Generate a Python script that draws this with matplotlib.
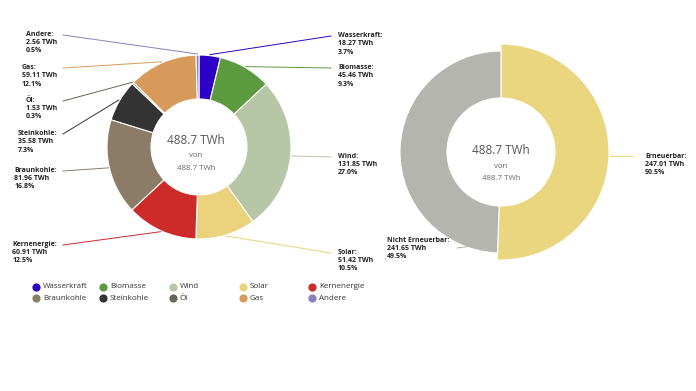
import numpy as np
import matplotlib
matplotlib.use("Agg")
import matplotlib.pyplot as plt

# ---------------- data ----------------
categories = ["Wasserkraft", "Biomasse", "Wind", "Solar", "Kernenergie",
              "Braunkohle", "Steinkohle", "Öl", "Gas", "Andere"]
values_twh = [18.27, 45.46, 131.85, 51.42, 60.91, 81.96, 35.58, 1.53, 59.11, 2.56]
percent_labels = ["3.7%", "9.3%", "27.0%", "10.5%", "12.5%", "16.8%", "7.3%", "0.3%", "12.1%", "0.5%"]
colors = ["#2d00c8", "#5b9a3f", "#b6c6a6", "#ead37c", "#cd2a2a",
          "#8c7b66", "#333333", "#66665a", "#d89a5a", "#8a80c0"]

group_categories = ["Erneuerbar", "Nicht Erneuerbar"]
group_values = [247.01, 241.65]
group_percent = ["50.5%", "49.5%"]
group_colors = ["#ead67e", "#b5b5b0"]

total_text = "488.7 TWh"

# ---------------- layout (pixels, y downward) ----------------
W, H = 696, 391
def Y(y):
    return H - y

L_CX, L_CY, L_R, L_RI = 199, 147, 92, 48
R_CX, R_CY, R_R, R_RI, R_RH = 501, 152, 101, 54, 108

# label first-line y positions and side (for the left donut)
label_y = [36, 68, 157, 253, 245, 171, 134, 101, 68, 35]
label_side = ["r", "r", "r", "r", "l", "l", "l", "l", "l", "l"]
RIGHT_TX, RIGHT_LX = 338, 331
LEFT_TX, LEFT_LX = 57, 63

plt.rcParams["font.family"] = ["Open Sans", "DejaVu Sans"]

fig = plt.figure(figsize=(W / 100, H / 100), dpi=100)
ax = fig.add_axes([0, 0, 1, 1])

# ---- left donut ----
wedges, _ = ax.pie(values_twh, colors=colors, startangle=90, counterclock=False,
                   radius=L_R, center=(L_CX, Y(L_CY)),
                   wedgeprops=dict(width=L_R - L_RI, edgecolor="white", linewidth=0.8))

frac = np.array(values_twh) / np.sum(values_twh)
mids = np.cumsum(frac) - frac / 2
fs_lab = 5.0
for i, cat in enumerate(categories):
    ang = np.deg2rad(mids[i] * 360)
    ex = L_CX + (L_R + 1) * np.sin(ang)
    ey = L_CY - (L_R + 1) * np.cos(ang)
    ly = label_y[i]
    txt = f"{cat}:\n{values_twh[i]:.2f} TWh\n{percent_labels[i]}"
    if label_side[i] == "r":
        ax.plot([ex, RIGHT_LX], [Y(ey), Y(ly)], color=colors[i], lw=0.7)
        ax.text(RIGHT_TX, Y(ly - 4), txt, ha="left", va="top", fontsize=fs_lab,
                fontweight="bold", color="#222222", linespacing=1.25)
    else:
        ax.plot([ex, LEFT_LX], [Y(ey), Y(ly)], color=colors[i], lw=0.7)
        ax.text(LEFT_TX, Y(ly - 4), txt, ha="right", va="top", fontsize=fs_lab,
                fontweight="bold", color="#222222", linespacing=1.25,
                multialignment="left")

ax.text(196, Y(144), total_text, ha="center", va="baseline", fontsize=8.5,
        color="#555555")
ax.text(196, Y(157), "von", ha="center", va="baseline", fontsize=5.7, color="#666666")
ax.text(196, Y(170), total_text, ha="center", va="baseline", fontsize=5.7, color="#666666")

# ---- right donut ----
gw, _ = ax.pie(group_values, colors=group_colors, startangle=90, counterclock=False,
               radius=R_R, center=(R_CX, Y(R_CY)),
               wedgeprops=dict(width=R_R - R_RI, edgecolor="white", linewidth=0.8))
gw[0].set_radius(R_RH)
gw[0].set_width(R_RH - R_RI)

# Erneuerbar label
ax.plot([R_CX + R_RH + 1, 633], [Y(156), Y(156)], color=group_colors[0], lw=0.7)
ax.text(645, Y(153), f"{group_categories[0]}:\n{group_values[0]:.2f} TWh\n{group_percent[0]}",
        ha="left", va="top", fontsize=fs_lab, fontweight="bold", color="#222222", linespacing=1.25)
# Nicht Erneuerbar label
ax.plot([457, 472], [Y(248), Y(246)], color=group_colors[1], lw=0.7)
ax.text(387, Y(237), f"{group_categories[1]}:\n{group_values[1]:.2f} TWh\n{group_percent[1]}",
        ha="left", va="top", fontsize=fs_lab, fontweight="bold", color="#222222", linespacing=1.25)

ax.text(501, Y(154), total_text, ha="center", va="baseline", fontsize=8.5,
        color="#555555")
ax.text(501, Y(168), "von", ha="center", va="baseline", fontsize=5.7, color="#666666")
ax.text(501, Y(180), total_text, ha="center", va="baseline", fontsize=5.7, color="#666666")

# ---- legend ----
leg_x = [36, 103, 173, 243, 312]
leg_y = [287, 298]
for i, cat in enumerate(categories):
    r, c = divmod(i, 5)
    ax.scatter([leg_x[c]], [Y(leg_y[r])], s=24, color=colors[i], zorder=3)
    ax.text(leg_x[c] + 7, Y(leg_y[r]), cat, ha="left", va="center", fontsize=5.8, color="#333333")

ax.set_xlim(0, W)
ax.set_ylim(0, H)
ax.set_aspect("equal")
ax.axis("off")

fig.savefig("out.png", dpi=100, facecolor="white")
